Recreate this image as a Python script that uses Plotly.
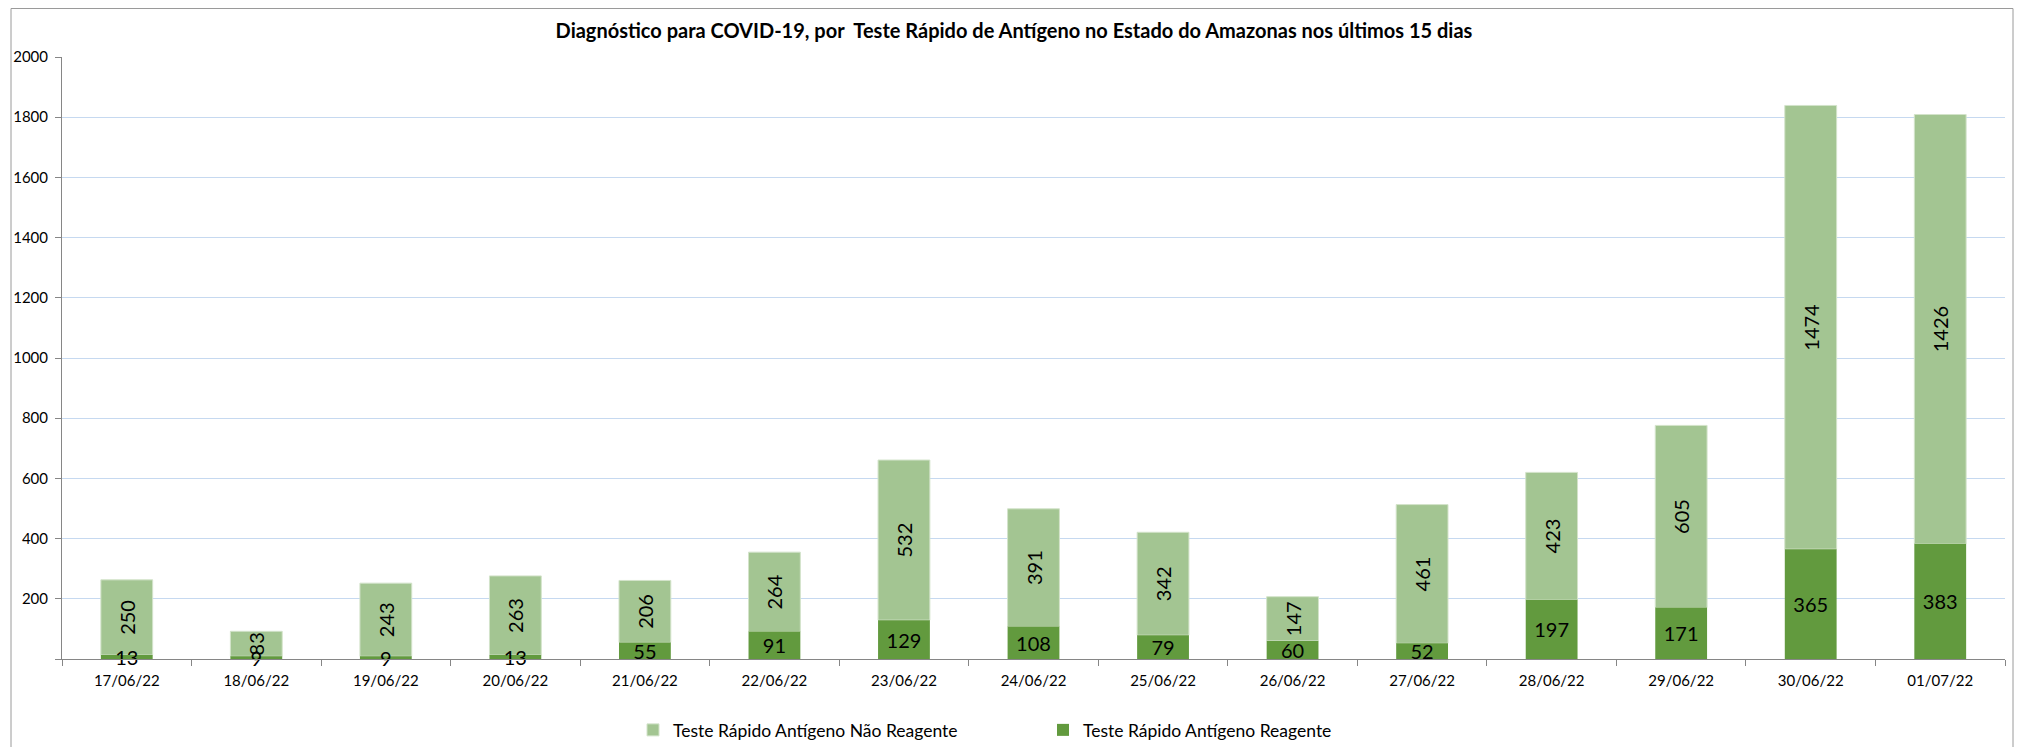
import plotly.graph_objects as go

dates = ["17/06/22", "18/06/22", "19/06/22", "20/06/22", "21/06/22", "22/06/22", "23/06/22",
         "24/06/22", "25/06/22", "26/06/22", "27/06/22", "28/06/22", "29/06/22", "30/06/22", "01/07/22"]
reagente = [13, 9, 9, 13, 55, 91, 129, 108, 79, 60, 52, 197, 171, 365, 383]
nao_reagente = [250, 83, 243, 263, 206, 264, 532, 391, 342, 147, 461, 423, 605, 1474, 1426]
y_ticks = [0, 200, 400, 600, 800, 1000, 1200, 1400, 1600, 1800, 2000]
y_tick_labels = ["", "200", "400", "600", "800", "1000", "1200", "1400", "1600", "1800", "2000"]

title_text = "Diagnóstico para COVID-19, por  Teste Rápido de Antígeno no Estado do Amazonas nos últimos 15 dias"
name_nr = "Teste Rápido Antígeno Não Reagente"
name_r = "Teste Rápido Antígeno Reagente"

FONT = "Lato, 'Open Sans', 'Liberation Sans', sans-serif"
LIGHT = "#A3C592"
DARK = "#629A3E"
# page has an 8px body margin: figure sized to fit the 2022x755 window exactly
W, H = 2006, 739
L, R, T, B = 54, 9, 49, 88
pw = W - L - R
ph = H - T - B

def px_to_paper_x(px):
    return (px - L) / pw

def px_to_paper_y(py):
    return (H - B - py) / ph

fig = go.Figure()
# light segment sits on top of the dark one (base = reagente); drawn first so the
# dark segment's labels stay visible over it
fig.add_trace(go.Bar(
    x=dates, y=nao_reagente, base=reagente, name=name_nr,
    marker=dict(color=LIGHT, line=dict(width=1, color="#D3E3CA")),
    texttemplate="%{y}", textposition="inside", insidetextanchor="middle",
    textangle=-90, constraintext="none", cliponaxis=False,
    textfont=dict(family=FONT, size=20, color="black"),
))
fig.add_trace(go.Bar(
    x=dates, y=reagente, name=name_r,
    marker=dict(color=DARK, line=dict(width=0)),
    texttemplate="%{y}", textposition="inside", insidetextanchor="middle",
    textangle=0, constraintext="none", cliponaxis=False,
    textfont=dict(family=FONT, size=20, color="black"),
))

fig.add_shape(type="rect", xref="paper", yref="paper",
              x0=px_to_paper_x(3), x1=px_to_paper_x(2005),
              y0=px_to_paper_y(760), y1=px_to_paper_y(0.5),
              line=dict(color="#9A9A9A", width=1), fillcolor="rgba(0,0,0,0)", layer="below")

fig.update_layout(
    width=W, height=H,
    margin=dict(l=L, r=R, t=T, b=B, autoexpand=False),
    paper_bgcolor="white", plot_bgcolor="white",
    barmode="overlay", bargap=0.6,
    font=dict(family=FONT, size=15, color="black"),
    title=dict(text="<b>" + title_text + "</b>", x=1006 / W, xanchor="center",
               y=1 - 23 / H, yanchor="middle", xref="container", yref="container",
               font=dict(family=FONT, size=20, color="black")),
    legend=dict(orientation="h", traceorder="normal", x=px_to_paper_x(625), xanchor="left",
                y=px_to_paper_y(722), yanchor="middle", entrywidth=365,
                font=dict(family=FONT, size=17.5, color="black"), bgcolor="rgba(0,0,0,0)"),
    showlegend=True,
)
fig.update_xaxes(type="category", showline=True, linecolor="#868686", linewidth=1,
                 ticks="outside", tickson="boundaries", ticklen=6, tickcolor="#868686",
                 ticklabelstandoff=8,
                 showgrid=False, tickfont=dict(family=FONT, size=15, color="black"))
fig.update_yaxes(range=[0, 2000], tickvals=y_ticks, ticktext=y_tick_labels,
                 showline=True, linecolor="#868686", linewidth=1,
                 ticks="outside", ticklen=6, tickcolor="#868686", ticklabelstandoff=4,
                 showgrid=True, gridcolor="#C6D9F0", gridwidth=1, zeroline=False,
                 tickfont=dict(family=FONT, size=15, color="black"))

fig.write_html("out.html")
